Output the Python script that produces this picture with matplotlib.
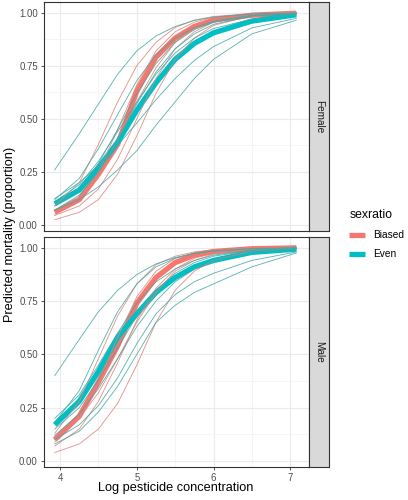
import numpy as np
import matplotlib
matplotlib.use("Agg")
from matplotlib import pyplot as plt
from matplotlib.lines import Line2D

plt.rcParams['font.family'] = ['Liberation Sans', 'DejaVu Sans']

# log pesticide concentration where the curves were read
conc = [3.93, 4.25, 4.5, 4.75, 5.0, 5.25, 5.5, 5.75, 6.0, 6.5, 7.08]

panels = ["Female", "Male"]
groups = ["Biased", "Even"]

# main fitted curves (thick)
female_biased = [0.06, 0.12, 0.24, 0.38, 0.63, 0.79, 0.88, 0.935, 0.965, 0.988, 0.997]
female_even = [0.10, 0.165, 0.27, 0.39, 0.54, 0.67, 0.78, 0.855, 0.905, 0.96, 0.99]
male_biased = [0.10, 0.21, 0.37, 0.54, 0.74, 0.86, 0.93, 0.965, 0.982, 0.995, 0.999]
male_even = [0.17, 0.28, 0.42, 0.58, 0.69, 0.79, 0.86, 0.91, 0.94, 0.978, 0.993]

# replicate curves (thin)
female_biased_reps = [
    [0.09, 0.20, 0.38, 0.58, 0.75, 0.86, 0.93, 0.965, 0.982, 0.995, 0.999],
    [0.05, 0.12, 0.25, 0.45, 0.66, 0.82, 0.91, 0.955, 0.978, 0.994, 0.999],
    [0.025, 0.06, 0.12, 0.24, 0.42, 0.62, 0.78, 0.88, 0.94, 0.985, 0.997],
    [0.045, 0.09, 0.17, 0.31, 0.50, 0.69, 0.83, 0.91, 0.955, 0.99, 0.998],
    [0.07, 0.13, 0.24, 0.40, 0.58, 0.74, 0.86, 0.93, 0.965, 0.991, 0.998],
]
female_even_reps = [
    [0.26, 0.43, 0.57, 0.71, 0.82, 0.89, 0.935, 0.963, 0.979, 0.994, 0.998],
    [0.069, 0.12, 0.18, 0.26, 0.35, 0.47, 0.58, 0.69, 0.78, 0.90, 0.964],
    [0.125, 0.20, 0.28, 0.375, 0.48, 0.59, 0.69, 0.775, 0.84, 0.928, 0.973],
    [0.07, 0.14, 0.25, 0.40, 0.57, 0.72, 0.83, 0.90, 0.945, 0.984, 0.996],
    [0.11, 0.19, 0.30, 0.44, 0.58, 0.71, 0.81, 0.88, 0.925, 0.97, 0.99],
    [0.12, 0.22, 0.36, 0.52, 0.68, 0.80, 0.88, 0.93, 0.96, 0.987, 0.997],
    [0.09, 0.17, 0.29, 0.45, 0.62, 0.76, 0.86, 0.92, 0.955, 0.985, 0.996],
]
male_biased_reps = [
    [0.13, 0.28, 0.48, 0.68, 0.83, 0.92, 0.96, 0.98, 0.99, 0.997, 0.999],
    [0.09, 0.20, 0.37, 0.58, 0.77, 0.89, 0.95, 0.976, 0.988, 0.997, 0.999],
    [0.04, 0.08, 0.15, 0.27, 0.45, 0.65, 0.80, 0.89, 0.94, 0.985, 0.997],
    [0.07, 0.15, 0.28, 0.46, 0.66, 0.81, 0.90, 0.95, 0.975, 0.993, 0.999],
    [0.11, 0.20, 0.32, 0.48, 0.65, 0.79, 0.89, 0.94, 0.97, 0.992, 0.998],
]
male_even_reps = [
    [0.40, 0.57, 0.70, 0.80, 0.874, 0.924, 0.954, 0.973, 0.984, 0.995, 0.998],
    [0.08, 0.14, 0.23, 0.35, 0.50, 0.65, 0.73, 0.79, 0.83, 0.91, 0.975],
    [0.10, 0.17, 0.26, 0.39, 0.55, 0.69, 0.78, 0.84, 0.88, 0.94, 0.98],
    [0.15, 0.25, 0.38, 0.53, 0.68, 0.80, 0.88, 0.93, 0.96, 0.987, 0.997],
    [0.20, 0.31, 0.45, 0.60, 0.74, 0.84, 0.90, 0.94, 0.965, 0.988, 0.997],
    [0.18, 0.33, 0.52, 0.70, 0.83, 0.91, 0.95, 0.973, 0.985, 0.996, 0.999],
    [0.12, 0.22, 0.34, 0.48, 0.63, 0.75, 0.84, 0.90, 0.94, 0.978, 0.994],
]

main = {"Female": [female_biased, female_even], "Male": [male_biased, male_even]}
reps = {"Female": [female_biased_reps, female_even_reps], "Male": [male_biased_reps, male_even_reps]}

cols = ["#F8766D", "#00BFC4"]
thin_cols = ["#DC847D", "#45A8A5"]

W, H = 408, 500
fig = plt.figure(figsize=(W/100, H/100), dpi=100)

boxes = [(2, 231), (237, 467)]  # top/bottom pixel rows of each panel
for name, (top, bot) in zip(panels, boxes):
    ax = fig.add_axes([44/W, 1-bot/H, 265/W, (bot-top)/H])
    ax.set_xlim(3.79, 7.245)
    ax.set_ylim(-0.028, 1.05)
    ax.set_xticks([4, 5, 6, 7])
    ax.set_xticks([4.5, 5.5, 6.5], minor=True)
    ax.set_yticks([0, 0.25, 0.5, 0.75, 1.0])
    ax.set_yticks([0.125, 0.375, 0.625, 0.875], minor=True)
    ax.set_yticklabels(["0.00", "0.25", "0.50", "0.75", "1.00"])
    ax.grid(which='major', color='#EBEBEB', lw=0.8)
    ax.grid(which='minor', color='#F2F2F2', lw=0.5)
    ax.set_axisbelow(True)
    ax.tick_params(which='major', length=2.5, width=0.6, color='#333333',
                   labelsize=6.9, labelcolor='#4D4D4D', pad=2)
    ax.tick_params(which='minor', length=0)
    for s in ax.spines.values():
        s.set_color('#333333')
        s.set_linewidth(0.8)
    if name == "Female":
        ax.set_xticklabels([])
        ax.tick_params(axis='x', which='major', length=0)
    for g in range(2):
        ax.plot(conc, main[name][g], color=cols[g], lw=3.8, solid_capstyle='butt', zorder=3)
    for g in range(2):
        for r in reps[name][g]:
            ax.plot(conc, r, color=thin_cols[g], lw=0.6, alpha=0.9, zorder=4)

    # facet strip
    sx = fig.add_axes([309/W, 1-bot/H, 20/W, (bot-top)/H])
    sx.set_facecolor('#D9D9D9')
    sx.set_xticks([]); sx.set_yticks([])
    for s in sx.spines.values():
        s.set_color('#333333')
        s.set_linewidth(0.8)
    sx.text(0.5, 0.5, name, rotation=-90, ha='center', va='center',
            fontsize=7.2, color='#1A1A1A', transform=sx.transAxes)

fig.text(10/W, 1-234/H, "Predicted mortality (proportion)", rotation=90,
         ha='center', va='center', fontsize=9.2, color='black')
fig.text(176/W, 1-488/H, "Log pesticide concentration", ha='center', va='center',
         fontsize=9.2, color='black')

handles = [Line2D([], [], color=c, lw=3.8, solid_capstyle='butt') for c in cols]
leg = fig.legend(handles, groups, title="sexratio", loc='upper left',
                 bbox_to_anchor=(340/W, 1-200/H), frameon=False, fontsize=7.3,
                 title_fontsize=8.8, handlelength=1.6, handletextpad=0.8,
                 labelspacing=0.9)
leg._legend_box.align = "left"

plt.savefig("out.png", dpi=100)
